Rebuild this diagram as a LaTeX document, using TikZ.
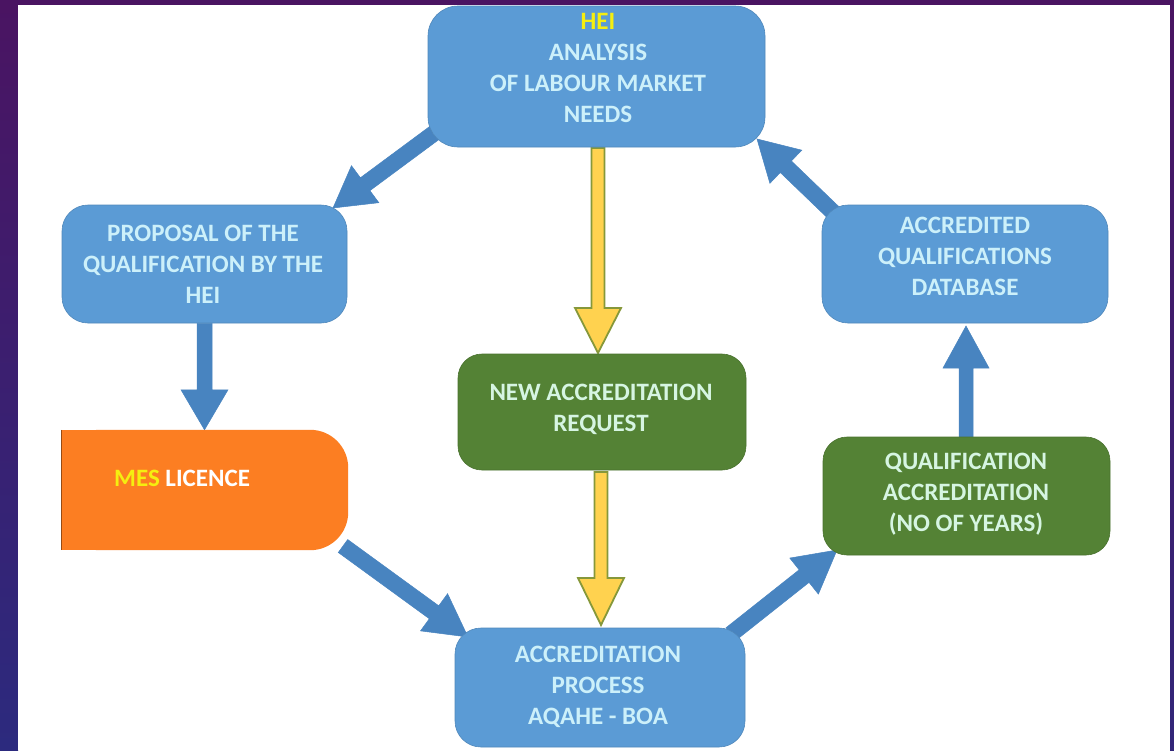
\documentclass[tikz,border=0pt]{standalone}
\usepackage{fontspec}
\setmainfont{Carlito}
\usetikzlibrary{calc}
\pgfdeclarelayer{bgzero}
\pgfdeclarelayer{arrows}
\pgfsetlayers{bgzero,arrows,main}
\definecolor{bgpurple}{HTML}{4A1462}
\definecolor{bgblue}{HTML}{2C2A7E}
\definecolor{boxblue}{HTML}{5B9BD5}
\definecolor{arrblue}{HTML}{4884C0}
\definecolor{boxgreen}{HTML}{548235}
\definecolor{boxorange}{HTML}{FC7E22}
\definecolor{txtcyan}{HTML}{CCF0FA}
\definecolor{txtgreen}{HTML}{D6F5E2}
\definecolor{hiyellow}{HTML}{F5EE10}
\definecolor{arryellow}{HTML}{FFD24F}
\definecolor{arrolive}{HTML}{86983A}
\tikzset{
  blbox/.style={fill=boxblue, draw=boxblue!88!black, line width=0.6pt, rounded corners=26pt, inner sep=0pt},
  grbox/.style={fill=boxgreen, draw=boxgreen!88!black, line width=0.6pt, rounded corners=24pt, inner sep=0pt},
  txt/.style={font=\bfseries\fontsize{25}{31}\selectfont, text=txtcyan, align=center, inner sep=0pt},
  gtxt/.style={txt, text=txtgreen},
  bluearr/.style={fill=arrblue, draw=arrblue, line width=0.5pt, line join=miter},
  yelarr/.style={fill=arryellow, draw=arrolive, line width=1.8pt, line join=miter}
}
\newcommand\blockarrow[6]{%
  \coordinate (bkneck) at ($(#3)!#6!(#2)$);
  \filldraw[#1] ($(#2)!#4!90:(#3)$) -- ($(bkneck)!#4!90:(#3)$) -- ($(bkneck)!#5!90:(#3)$) -- (#3)
     -- ($(bkneck)!#5!-90:(#3)$) -- ($(bkneck)!#4!-90:(#3)$) -- ($(#2)!#4!-90:(#3)$) -- cycle;}
\begin{document}
\begin{tikzpicture}[x=1pt, y=-1pt]
\begin{pgfonlayer}{bgzero}
\useasboundingbox (0,0) rectangle (1174,750);
\fill[bgpurple] (0,0) rectangle (1174,750);
\shade[top color=bgpurple, bottom color=bgblue] (0,0) rectangle (18,750);
\shade[top color=bgpurple, bottom color=bgblue!80!bgpurple] (1170,0) rectangle (1174,750);
\fill[white] (18,5) rectangle (1170,750);
\end{pgfonlayer}

% boxes
\node[blbox, minimum width=337pt, minimum height=141pt, rounded corners=30pt] (hei) at (596.5,76.5) {};
\node[txt] (heitxt) at (598,67.5) {\textcolor{hiyellow}{HEI}\\ANALYSIS\\OF LABOUR MARKET\\NEEDS};

\node[blbox, minimum width=285pt, minimum height=118pt] (prop) at (204.5,264) {};
\node[txt] (proptxt) at (203,264.5) {PROPOSAL OF THE\\QUALIFICATION BY THE\\HEI};

\node[minimum width=286pt, minimum height=120pt, inner sep=0pt] (mes) at (205,490) {};
\fill[boxorange, rounded corners=38pt] (mes.north west) rectangle (mes.south east);
\fill[boxorange] (mes.north west) rectangle (mes.south);
\draw[boxorange!60!black, line width=0.8pt] (mes.north west) -- (mes.south west);
\node[txt, anchor=west] (mestxt) at (114,478) {\textcolor{hiyellow}{MES} \textcolor{white}{LICENCE}};

\node[grbox, minimum width=288pt, minimum height=116pt] (req) at (602,412) {};
\node[gtxt] (reqtxt) at (601,409.5) {NEW ACCREDITATION\\REQUEST};

\node[blbox, minimum width=290pt, minimum height=119pt] (acc) at (600,687.5) {};
\node[txt] (acctxt) at (598,686.5) {ACCREDITATION\\PROCESS\\AQAHE - BOA};

\node[blbox, minimum width=286pt, minimum height=118pt] (db) at (965,264) {};
\node[txt] (dbtxt) at (965,256) {ACCREDITED\\QUALIFICATIONS\\DATABASE};

\node[grbox, minimum width=287pt, minimum height=118pt] (qual) at (966.5,496) {};
\node[gtxt] (qualtxt) at (966,494) {QUALIFICATION\\ACCREDITATION\\(NO OF YEARS)};

% connector end points
\coordinate (a1s) at (437,131);
\coordinate (a1e) at (333,208);
\coordinate (a2s) at (prop.south);
\coordinate (a2e) at (prop.south |- mes.north);
\coordinate (a3s) at (343,546);
\coordinate (a3e) at (468,637);
\coordinate (a4s) at (731,634);
\coordinate (a4e) at (837,550);
\coordinate (a5s) at (966,437);
\coordinate (a5e) at (966,326);
\coordinate (a6s) at (836,215);
\coordinate (a6e) at (757,139);
\coordinate (y1s) at (598,148);
\coordinate (y1e) at (598,353);
\coordinate (y2s) at (601,472);
\coordinate (y2e) at (601,625);

\begin{pgfonlayer}{arrows}
\blockarrow{bluearr}{a1s}{a1e}{8pt}{23pt}{40pt}
\blockarrow{bluearr}{a2s}{a2e}{7.5pt}{23.5pt}{40pt}
\blockarrow{bluearr}{a3s}{a3e}{8pt}{23pt}{42pt}
\blockarrow{bluearr}{a4s}{a4e}{8pt}{23pt}{42pt}
\blockarrow{bluearr}{a5s}{a5e}{7pt}{23pt}{42pt}
\blockarrow{bluearr}{a6s}{a6e}{8pt}{23pt}{40pt}
\blockarrow{yelarr}{y1s}{y1e}{6.5pt}{23pt}{45pt}
\blockarrow{yelarr}{y2s}{y2e}{6.5pt}{23pt}{47pt}
\end{pgfonlayer}
\end{tikzpicture}
\end{document}
